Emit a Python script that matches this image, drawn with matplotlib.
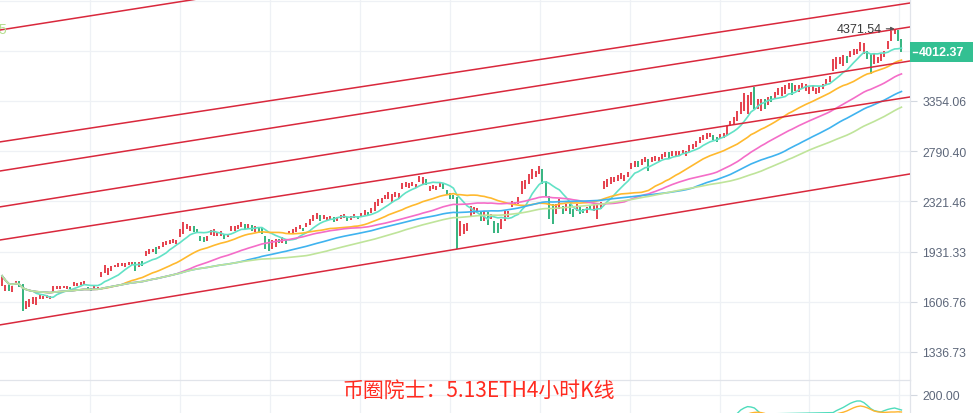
import numpy as np
import pandas as pd
import matplotlib
matplotlib.use('Agg')
import matplotlib.pyplot as plt
from matplotlib.ticker import NullLocator
from matplotlib.patches import Rectangle

plt.rcParams['font.family'] = ['Liberation Sans', 'DejaVu Sans']

# 4h candles, open / close
opens = [1703, 1672, 1709, 1666, 1716, 1735, 1716, 1565, 1577, 1594,
         1588, 1623, 1623, 1629, 1623, 1666, 1684, 1684, 1690, 1684,
         1697, 1703, 1703, 1709, 1709, 1697, 1690, 1684, 1678, 1760,
         1786, 1773, 1799, 1825, 1825, 1832, 1825, 1839, 1839, 1859,
         1825, 1866, 1900, 1915, 1929, 1964, 1950, 1964, 1979, 1986,
         1993, 1986, 2037, 2060, 2098, 2083, 2121, 2098, 2045, 2037,
         2008, 2052, 2045, 2045, 2045, 2060, 2037, 2083, 2083, 2098,
         2114, 2137, 2098, 2129, 2075, 2114, 2106, 2045, 2022, 1950,
         1964, 2022, 1993, 2022, 2060, 2060, 2075, 2098, 2106, 2114,
         2129, 2160, 2176, 2209, 2176, 2160, 2168, 2193, 2160, 2176,
         2184, 2193, 2168, 2184, 2201, 2193, 2209, 2234, 2225, 2242,
         2283, 2308, 2342, 2342, 2317, 2359, 2342, 2429, 2447, 2438,
         2456, 2438, 2493, 2475, 2520, 2412, 2429, 2420, 2447, 2484,
         2420, 2394, 2377, 2359, 2045, 2060, 2083, 2201, 2217, 2225,
         2242, 2160, 2234, 2176, 2160, 2145, 2098, 2160, 2193, 2275,
         2292, 2300, 2386, 2429, 2475, 2520, 2539, 2567, 2614, 2502,
         2368, 2300, 2217, 2258, 2283, 2242, 2300, 2258, 2242, 2275,
         2258, 2225, 2283, 2242, 2176, 2258, 2429, 2447, 2475, 2493,
         2502, 2520, 2502, 2539, 2614, 2634, 2692, 2653, 2683, 2712,
         2683, 2692, 2692, 2712, 2732, 2783, 2742, 2742, 2752, 2773,
         2742, 2783, 2813, 2834, 2876, 2908, 2918, 2940, 2962, 2940,
         2918, 2929, 2962, 3061, 3084, 3117, 3199, 3234, 3199, 3306,
         3531, 3257, 3234, 3379, 3306, 3416, 3379, 3429, 3416, 3442,
         3505, 3584, 3479, 3467, 3505, 3479, 3442, 3479, 3442, 3454,
         3505, 3571, 3597, 3745, 3772, 3842, 3814, 3956, 3941, 3970,
         3985, 4029, 3985, 4029, 3985, 3842, 3856, 3884, 3941, 4058,
         4180, 4288, 4351, 4210]
closes = [1767, 1709, 1672, 1703, 1735, 1697, 1554, 1611, 1623, 1635,
          1635, 1648, 1641, 1648, 1641, 1703, 1703, 1703, 1703, 1703,
          1684, 1728, 1722, 1728, 1735, 1678, 1672, 1703, 1697, 1793,
          1839, 1819, 1832, 1839, 1852, 1852, 1852, 1859, 1859, 1799,
          1859, 1832, 1936, 1950, 1950, 1915, 1972, 2000, 2008, 2015,
          2022, 2015, 2098, 2153, 2137, 2121, 2075, 2068, 2008, 2000,
          2045, 2090, 2098, 2075, 2083, 2022, 2060, 2121, 2121, 2129,
          2153, 2098, 2137, 2083, 2121, 2068, 2060, 1950, 1936, 2015,
          2022, 1993, 2037, 1986, 2083, 2098, 2114, 2129, 2083, 2145,
          2176, 2209, 2225, 2160, 2209, 2193, 2201, 2153, 2193, 2209,
          2217, 2160, 2201, 2217, 2176, 2225, 2250, 2209, 2266, 2317,
          2342, 2351, 2377, 2403, 2386, 2403, 2394, 2484, 2493, 2484,
          2493, 2475, 2548, 2539, 2465, 2456, 2465, 2456, 2493, 2429,
          2377, 2342, 2342, 1950, 2160, 2137, 2145, 2283, 2275, 2266,
          2160, 2242, 2129, 2217, 2068, 2068, 2176, 2242, 2242, 2325,
          2317, 2359, 2502, 2511, 2567, 2614, 2595, 2643, 2475, 2359,
          2176, 2137, 2300, 2342, 2217, 2300, 2217, 2193, 2300, 2217,
          2225, 2275, 2250, 2300, 2300, 2317, 2502, 2520, 2539, 2539,
          2558, 2576, 2558, 2586, 2673, 2692, 2634, 2712, 2732, 2595,
          2732, 2742, 2732, 2763, 2783, 2712, 2793, 2793, 2793, 2803,
          2793, 2855, 2866, 2897, 2940, 2962, 2983, 2983, 2908, 2887,
          2973, 2983, 3061, 3117, 3163, 3234, 3342, 3454, 3429, 3467,
          3257, 3379, 3379, 3257, 3404, 3342, 3467, 3518, 3531, 3557,
          3584, 3429, 3557, 3557, 3584, 3571, 3531, 3557, 3518, 3531,
          3571, 3636, 3677, 3912, 3941, 3941, 3970, 3856, 4029, 4058,
          4058, 4164, 4149, 3912, 3704, 3985, 3941, 3985, 4029, 4180,
          4335, 4371.54, 4180, 4012.37]

ma_periods = [10, 30, 50, 70, 90]
ma_colors = ['#62e2c6', '#ffb92e', '#f46dc8', '#3fb3ef', '#bfe49a']

price_ticks = [1336.73, 1606.76, 1931.33, 2321.46, 2790.40, 3354.06]
grid_extra = [4031.57, 4846.0]
last_price = 4012.37

# channel lines: price at left edge / right edge of the chart
channel_left = [4351, 2887, 2595, 2275, 2015, 1476]
channel_right = [7350, 4804, 4400, 3884, 3404, 2567]

# lower indicator panel (only the tops are visible)
ind_start = 210
ind_teal = [80, 85, 90, 95, 100, 108, 125, 135, 142, 140,
            135, 120, 105, 95, 90, 88, 85, 85, 87, 90,
            92, 88, 85, 85, 88, 90, 88, 85, 88, 92,
            96, 100, 105, 112, 122, 130, 138, 148, 158, 165,
            170, 170, 162, 148, 132, 122, 118, 115, 122, 128,
            132, 135, 130, 125]
ind_orange = [70, 72, 75, 80, 85, 90, 95, 100, 105, 110,
              113, 114, 112, 108, 100, 95, 92, 90, 88, 86,
              85, 85, 86, 87, 88, 88, 87, 86, 86, 88,
              90, 94, 98, 102, 106, 110, 114, 120, 128, 136,
              142, 145, 142, 136, 128, 120, 116, 114, 113, 114,
              115, 115, 116, 115]
ind_tick = 200.00

title = '币圈院士：5.13ETH4小时K线'

RED = '#e5404d'
GREEN = '#35b47f'
GRID = '#eef1f5'
AXC = '#e1e4ea'
LABC = '#5d677a'

W, H = 975, 414
ylo, yhi = 1206, 4875
xlo, xhi = -0.6, 265.5

fig = plt.figure(figsize=(W / 100, H / 100), dpi=100)
fig.patch.set_facecolor('white')
ax = fig.add_axes([0, 1 - 381 / H, 910 / W, 381 / H])
ax2 = fig.add_axes([0, 0, 910 / W, 33 / H])

o = np.array(opens, dtype=float)
c = np.array(closes, dtype=float)
idx = np.arange(len(c))

ax.set_yscale('log')
ax.set_ylim(ylo, yhi)
ax.set_xlim(xlo, xhi)

# grid
grid_x = np.arange(25.7, xhi, 26.3)
for gx in grid_x:
    ax.axvline(gx, color=GRID, lw=0.9, zorder=0)
    ax2.axvline(gx, color=GRID, lw=0.9, zorder=0)
for gy in price_ticks + grid_extra:
    ax.axhline(gy, color=GRID, lw=0.9, zorder=0)

# candles
cols = np.where(c >= o, RED, GREEN)
ax.vlines(idx, np.minimum(o, c), np.maximum(o, c), colors=cols, linewidth=1.4, zorder=3)

# moving averages
s = pd.Series(c)
for n, col in zip(ma_periods, ma_colors):
    ax.plot(idx, s.rolling(n, min_periods=1).mean(), color=col, lw=1.2, zorder=4)

# channel
for pl, pr in zip(channel_left, channel_right):
    ax.plot([xlo, xhi], [pl, pr], color='#d9283c', lw=1.1, zorder=5)

# highest price marker
hi_i = int(np.argmax(c))
ax.annotate(f'{c[hi_i]:.2f}', xy=(hi_i, c[hi_i]), xytext=(-9, 0), textcoords='offset points',
            ha='right', va='center', fontsize=9, color='#3a3a3a', zorder=6,
            arrowprops=dict(arrowstyle='-|>', color='#555555', lw=0.8,
                            shrinkA=1, shrinkB=0, mutation_scale=5))

# right axis
ax.yaxis.tick_right()
ax.set_yticks(price_ticks)
ax.set_yticklabels([f'{v:.2f}' for v in price_ticks])
ax.yaxis.set_minor_locator(NullLocator())
ax.set_xticks([])
ax.tick_params(axis='y', length=5, width=0.8, color='#d3d8e0', labelsize=8.8,
               labelcolor=LABC, pad=4)
for sp in ['top', 'left', 'bottom']:
    ax.spines[sp].set_visible(False)
ax.spines['right'].set_color(AXC)
ax.spines['right'].set_linewidth(0.9)

# last price box
frac = (np.log(last_price) - np.log(ylo)) / (np.log(yhi) - np.log(ylo))
ax.add_patch(Rectangle((1.0, frac - 10 / 381), 63 / 910, 20 / 381, transform=ax.transAxes,
                       clip_on=False, facecolor='#33c092', edgecolor='none', zorder=10))
ax.plot([1.0 + 3 / 910, 1.0 + 7 / 910], [frac, frac], transform=ax.transAxes,
        color='white', lw=1, clip_on=False, zorder=11)
ax.text(1.0 + 31.5 / 910, frac, f'{last_price:.2f}', transform=ax.transAxes,
        ha='center', va='center', fontsize=9, fontweight='bold', color='white', zorder=12)

# lower panel
ax2.set_xlim(xlo, xhi)
ax2.set_ylim(110, 275)
xi = np.arange(ind_start, ind_start + len(ind_teal))
ax2.plot(xi, ind_teal, color='#4fdcbc', lw=1.0, zorder=3)
ax2.plot(xi, ind_orange, color='#ffb52e', lw=1.0, zorder=3)
ax2.axhline(ind_tick, color=GRID, lw=0.9, zorder=0)
ax2.yaxis.tick_right()
ax2.set_yticks([ind_tick])
ax2.set_yticklabels([f'{ind_tick:.2f}'])
ax2.set_xticks([])
ax2.tick_params(axis='y', length=5, width=0.8, color='#d3d8e0', labelsize=8.8,
                labelcolor=LABC, pad=4)
for sp in ['left', 'bottom']:
    ax2.spines[sp].set_visible(False)
for sp in ['top', 'right']:
    ax2.spines[sp].set_color(AXC)
    ax2.spines[sp].set_linewidth(0.9)

fig.text(-2 / W, 1 - 30 / H, '5', color='#b5df8f', fontsize=10, ha='left', va='center')
fig.text(479 / W, 1 - 391 / H, title, ha='center', va='center', fontsize=15,
         color='#ff2a1f', family=['Noto Sans CJK SC', 'DejaVu Sans'], zorder=20)

fig.savefig('out.png', dpi=100)
